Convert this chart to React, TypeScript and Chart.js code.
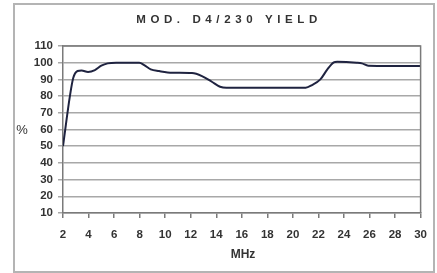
import React, { useEffect, useRef } from "react";
import { Chart, registerables } from "chart.js";

Chart.register(...registerables);

const titleText = "MOD. D4/230 YIELD";
const xTitle = "MHz";
const yTitle = "%";

const freqMHz = [2, 2.54, 2.8, 3.14, 3.45, 3.96, 4.5, 5.0, 5.5, 6.16, 7.97, 8.36, 8.87, 9.52, 10.55, 12.1, 12.88, 13.65, 14.3, 14.8, 21.0, 21.5, 22.15, 22.7, 23.2, 23.47, 25.0, 25.4, 25.9, 30];
const yieldPct = [50, 80, 90.8, 95, 95.3, 94.5, 95.6, 98.2, 99.6, 100, 100, 98.6, 96, 95, 94, 93.8, 92, 88.6, 85.6, 85, 85, 86.6, 90, 96, 100.2, 100.6, 100, 99.6, 98.2, 98];

const xMin = 2, xMax = 30, xStep = 2;
const yMin = 10, yMax = 110, yStep = 10;

const FONT = "'Liberation Sans', Arial, sans-serif";

const decorPlugin = {
  id: "decor",
  beforeDraw(chart: any) {
    const ctx = chart.ctx;
    ctx.save();
    ctx.strokeStyle = "#b4b4b4";
    ctx.lineWidth = 2;
    ctx.strokeRect(14, 4, 420, 268);
    ctx.restore();
  },
  afterDraw(chart: any) {
    const ctx = chart.ctx;
    const a = chart.chartArea;
    ctx.save();
    ctx.strokeStyle = "#7a7a7a";
    ctx.lineWidth = 1.5;
    ctx.beginPath();
    ctx.moveTo(a.left, a.top);
    ctx.lineTo(a.right, a.top);
    ctx.lineTo(a.right, a.bottom);
    ctx.stroke();

    ctx.fillStyle = "#333";
    ctx.textAlign = "center";
    ctx.textBaseline = "middle";
    ctx.font = `bold 11.5px ${FONT}`;
    (ctx as any).letterSpacing = "4.6px";
    ctx.fillText(titleText, 229, 20);
    (ctx as any).letterSpacing = "0px";
    ctx.font = `bold 12px ${FONT}`;
    ctx.fillText(xTitle, 243, 255);
    ctx.font = `13px ${FONT}`;
    ctx.fillText(yTitle, 22, 130);
    ctx.restore();
  },
};

export default function App() {
  const ref = useRef<HTMLCanvasElement | null>(null);
  useEffect(() => {
    if (!ref.current) return;
    const chart = new Chart(ref.current, {
      type: "line",
      data: {
        datasets: [
          {
            data: freqMHz.map((f, i) => ({ x: f, y: yieldPct[i] })),
            borderColor: "#1f2340",
            borderWidth: 2,
            pointRadius: 0,
            fill: false,
            cubicInterpolationMode: "monotone",
          },
        ],
      },
      options: {
        animation: false,
        responsive: false,
        devicePixelRatio: 1,
        layout: { padding: { top: 46, left: 0, right: 13, bottom: 0 } },
        plugins: { legend: { display: false }, title: { display: false }, tooltip: { enabled: false } },
        scales: {
          x: {
            type: "linear",
            min: xMin,
            max: xMax,
            afterFit: (s: any) => { s.height = 60; },
            ticks: { stepSize: xStep, autoSkip: false, color: "#333", font: { family: FONT, size: 11.5, weight: "bold" }, padding: 10, maxRotation: 0 },
            grid: { drawOnChartArea: false, drawTicks: true, tickLength: 5, color: "#7a7a7a", lineWidth: 1.5 },
            border: { color: "#7a7a7a", width: 1.5 },
          },
          y: {
            min: yMin,
            max: yMax,
            afterFit: (s: any) => { s.width = 63; },
            ticks: { stepSize: yStep, autoSkip: false, color: "#333", font: { family: FONT, size: 11.5, weight: "bold" }, padding: 5 },
            grid: { drawOnChartArea: true, drawTicks: true, tickLength: 5, color: "#a8a8a8", lineWidth: 1.5 },
            border: { color: "#7a7a7a", width: 1.5 },
          },
        },
      },
      plugins: [decorPlugin],
    } as any);
    return () => chart.destroy();
  }, []);
  return (
    <div style={{ position: "fixed", left: 0, top: 0, width: 437, height: 273, background: "#fff" }}>
      <canvas ref={ref} width={437} height={273} />
    </div>
  );
}
